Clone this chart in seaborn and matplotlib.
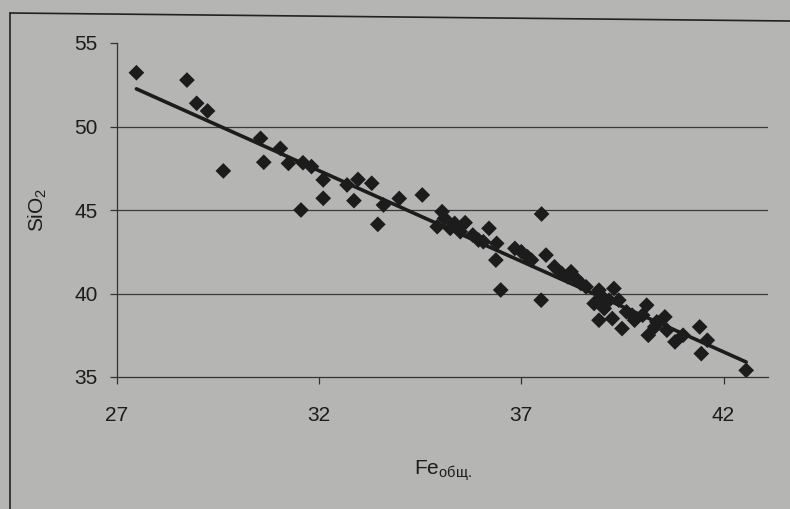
import matplotlib
matplotlib.use("Agg")
import matplotlib.pyplot as plt
import seaborn as sns
import pandas as pd
from matplotlib.lines import Line2D

fe_total = [27.48, 28.73, 28.97, 29.24, 29.63, 30.55, 30.63, 31.04, 31.24, 31.60,
            31.81, 31.55, 32.10, 32.10, 32.69, 32.96, 33.30, 32.86, 33.59, 33.45,
            33.98, 34.55, 35.04, 34.92, 35.24, 35.61, 35.49, 35.94, 36.20, 36.39,
            36.37, 36.49, 36.84, 37.50, 36.06, 37.49, 37.25, 37.61, 37.82, 38.23,
            38.47, 38.35, 38.92, 39.29, 38.80, 39.17, 39.41, 38.92, 39.25, 39.49,
            39.74, 40.10, 39.80, 40.14, 40.55, 40.80, 41.41, 41.60, 41.45, 42.56,
            35.10, 35.80, 37.00, 38.00, 38.60, 39.00, 40.30, 40.60, 41.00,
            39.05, 39.60, 40.00, 40.35, 35.35, 37.15, 38.15]
sio2 = [53.22, 52.78, 51.39, 50.93, 47.34, 49.29, 47.86, 48.69, 47.79, 47.83,
        47.60, 45.00, 46.80, 45.70, 46.50, 46.83, 46.60, 45.56, 45.30, 44.14,
        45.69, 45.90, 44.90, 44.00, 43.90, 44.24, 43.70, 43.20, 43.90, 43.00,
        42.00, 40.21, 42.70, 44.76, 43.10, 39.60, 42.00, 42.30, 41.60, 41.30,
        40.60, 40.90, 40.20, 40.30, 39.40, 39.60, 39.60, 38.40, 38.50, 37.90,
        38.70, 39.30, 38.40, 37.50, 38.60, 37.10, 38.00, 37.20, 36.40, 35.40,
        44.50, 43.50, 42.50, 41.20, 40.40, 39.80, 38.00, 37.80, 37.50,
        39.10, 38.90, 38.70, 38.30, 44.20, 42.20, 41.00]

x_ticks = [27, 32, 37, 42]
y_ticks = [35, 40, 45, 50, 55]
grid_levels = [40, 45, 50]

df = pd.DataFrame({"fe": fe_total, "sio2": sio2})

bg = "#b5b5b3"
ink = "#1c1c1c"

sns.set_theme(style="ticks")
plt.rcParams["font.family"] = ["Liberation Sans", "DejaVu Sans"]
plt.rcParams["mathtext.default"] = "regular"

fig = plt.figure(figsize=(7.9, 5.09), dpi=100, facecolor=bg)
ax = fig.add_axes([117 / 790, 1 - 377 / 509, (768 - 117) / 790, (377 - 43) / 509])
ax.set_facecolor(bg)

for g in grid_levels:
    ax.axhline(g, color="#3a3a3a", lw=0.9, zorder=1)

sns.regplot(data=df, x="fe", y="sio2", scatter=False, ci=None, ax=ax,
            line_kws=dict(color=ink, lw=2.6, zorder=2))
sns.scatterplot(data=df, x="fe", y="sio2", marker="D", s=64, color=ink,
                edgecolor="none", ax=ax, zorder=3)

ax.set_xlim(27, 43.1)
ax.set_ylim(35, 55)
ax.set_xticks(x_ticks)
ax.set_yticks(y_ticks)
ax.tick_params(axis="both", direction="out", length=5, width=0.9, color="#333333",
               labelsize=15, labelcolor=ink)
ax.tick_params(axis="x", pad=16)
ax.tick_params(axis="y", pad=9)
for side in ["top", "right"]:
    ax.spines[side].set_visible(False)
for side in ["left", "bottom"]:
    ax.spines[side].set_color("#333333")
    ax.spines[side].set_linewidth(0.9)

ax.set_xlabel("Fe$_{общ.}$", fontsize=15, color=ink, labelpad=24)
ax.set_ylabel("SiO$_2$", fontsize=15, color=ink, labelpad=18)

# outer frame of the printed figure
fig.add_artist(Line2D([10 / 790, 10 / 790], [0, 1 - 13 / 509], transform=fig.transFigure,
                      color="#222222", lw=1.2))
fig.add_artist(Line2D([10 / 790, 1], [1 - 13 / 509, 1 - 21 / 509], transform=fig.transFigure,
                      color="#222222", lw=1.2))

fig.savefig("out.png", dpi=100, facecolor=bg)
